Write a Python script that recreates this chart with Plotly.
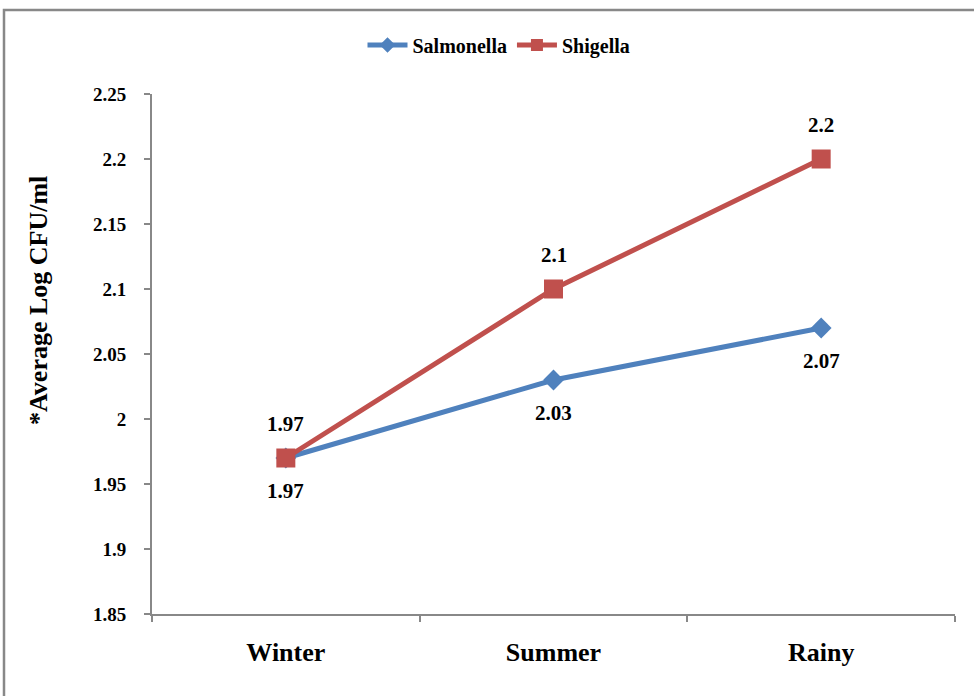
import plotly.graph_objects as go

seasons = ["Winter", "Summer", "Rainy"]
salmonella = [1.97, 2.03, 2.07]
shigella = [1.97, 2.10, 2.20]
y_ticks = [1.85, 1.9, 1.95, 2.0, 2.05, 2.1, 2.15, 2.2, 2.25]
y_tick_labels = ["1.85", "1.9", "1.95", "2", "2.05", "2.1", "2.15", "2.2", "2.25"]
y_title = "*Average Log CFU/ml"

FONT = "Liberation Serif, Times New Roman, serif"
BLUE = "#4F81BD"
RED = "#C0504D"
GRAY = "#888888"

fig = go.Figure()
fig.add_trace(go.Scatter(
    x=seasons, y=salmonella, name="Salmonella", mode="lines+markers",
    line=dict(color=BLUE, width=5),
    marker=dict(symbol="diamond", size=16, color=BLUE),
))
fig.add_trace(go.Scatter(
    x=seasons, y=shigella, name="Shigella", mode="lines+markers",
    line=dict(color=RED, width=5),
    marker=dict(symbol="square", size=19, color=RED),
))

W, H = 974, 696
L, R, T, B = 152, 19, 94, 82
pw, ph = W - L - R, H - T - B

def px_x(px):
    return (px - L) / pw

def px_y(py):
    return (H - B - py) / ph

annotations = []
for s, v in zip(seasons, salmonella):
    annotations.append(dict(x=s, y=v, text=f"{v:g}", showarrow=False, yshift=-33,
                            font=dict(family=FONT, size=21, color="black", weight="bold")))
for s, v in zip(seasons, shigella):
    annotations.append(dict(x=s, y=v, text=f"{v:g}", showarrow=False, yshift=34,
                            font=dict(family=FONT, size=21, color="black", weight="bold")))
annotations.append(dict(xref="paper", yref="paper", x=px_x(38), y=px_y(300),
                        text=y_title, textangle=-90, showarrow=False,
                        xanchor="center", yanchor="middle",
                        font=dict(family=FONT, size=26, color="black", weight="bold")))

fig.update_layout(
    width=W, height=H,
    margin=dict(l=L, r=R, t=T, b=B, autoexpand=False),
    paper_bgcolor="white", plot_bgcolor="white",
    font=dict(family=FONT, color="black"),
    showlegend=True,
    legend=dict(orientation="h", x=px_x(499), xanchor="center", y=px_y(45), yanchor="middle",
                font=dict(family=FONT, size=20, color="black", weight="bold"),
                itemwidth=40, tracegroupgap=0, itemsizing="constant"),
    annotations=annotations,
    xaxis=dict(
        type="category", range=[-0.5, 2.5], tickson="boundaries",
        showline=True, linecolor=GRAY, linewidth=2,
        ticks="outside", ticklen=6, tickcolor=GRAY, tickwidth=1.5,
        showgrid=False, zeroline=False,
        tickfont=dict(family=FONT, size=26, color="black", weight="bold"),
        ticklabelstandoff=14,
    ),
    yaxis=dict(
        range=[1.85, 2.25], tickvals=y_ticks, ticktext=y_tick_labels,
        showline=True, linecolor=GRAY, linewidth=2,
        ticks="outside", ticklen=6, tickcolor=GRAY, tickwidth=1.5,
        showgrid=False, zeroline=False,
        tickfont=dict(family=FONT, size=19, color="black", weight="bold"),
        ticklabelstandoff=14,
    ),
    shapes=[dict(type="rect", xref="paper", yref="paper",
                 x0=px_x(4), x1=px_x(990), y0=px_y(710), y1=px_y(10),
                 line=dict(color=GRAY, width=2.5), fillcolor="rgba(0,0,0,0)", layer="below")],
)

fig.write_html("out.html", config={"displayModeBar": False},
               post_script="document.body.style.margin='0';document.body.style.overflow='hidden';")
